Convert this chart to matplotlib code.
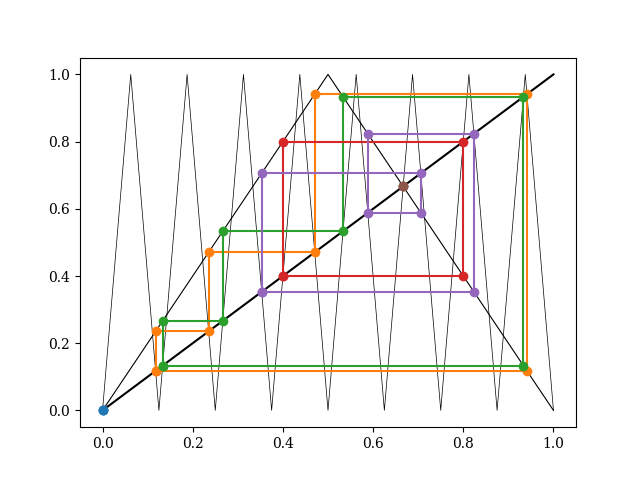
import numpy as np
import matplotlib
matplotlib.use("Agg")
import matplotlib.pyplot as plt

plt.rcParams['font.family'] = 'DejaVu Serif'

# tent map and its 4th iterate (breakpoints)
tent_x = [0, 0.5, 1]
tent_y = [0, 1, 0]
t4_x = [k / 16 for k in range(17)]
t4_y = [0, 1] * 8 + [0]

# periodic orbits of the tent map (points of period dividing 4)
orbit_fix0 = [0.0]
orbit_a = [2/17, 4/17, 8/17, 16/17]
orbit_b = [2/15, 4/15, 8/15, 14/15]
orbit_c = [2/5, 4/5]
orbit_d = [6/17, 12/17, 10/17, 14/17]
orbit_fix1 = [2/3]

orbits = [orbit_fix0, orbit_a, orbit_b, orbit_c, orbit_d, orbit_fix1]
colors = ['C0', 'C1', 'C2', 'C3', 'C4', 'C5']


def cobweb(orbit):
    xs, ys = [], []
    n = len(orbit)
    for i in range(n):
        x = orbit[i]
        nxt = orbit[(i + 1) % n]
        xs += [x, x]
        ys += [x, nxt]
    xs.append(orbit[0])
    ys.append(orbit[0])
    return xs, ys


fig, ax = plt.subplots(figsize=(6.4, 4.8), dpi=100)
ax.plot(t4_x, t4_y, color='black', lw=0.5)
ax.plot(tent_x, tent_y, color='black', lw=0.8)
ax.plot([0, 1], [0, 1], color='black', lw=1.5)

for orb, c in zip(orbits, colors):
    xs, ys = cobweb(orb)
    ax.plot(xs, ys, 'o-', color=c)

fig.savefig('out.png')
